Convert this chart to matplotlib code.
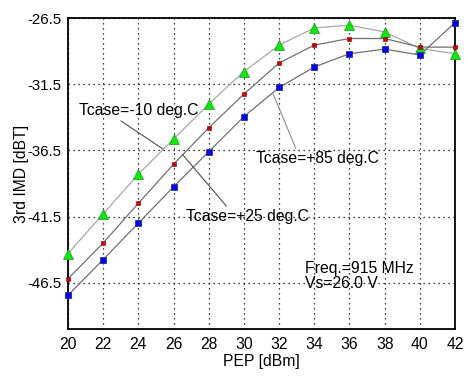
import numpy as np
import matplotlib.pyplot as plt

plt.rcParams['font.family'] = ['Liberation Sans', 'DejaVu Sans']

# PEP [dBm]
pep = [20, 22, 24, 26, 28, 30, 32, 34, 36, 38, 40, 42]

# 3rd IMD [dBT] for each case temperature
imd_m10 = [-44.3, -41.3, -38.3, -35.65, -33.0, -30.55, -28.55, -27.25, -27.05, -27.55, -28.8, -29.2]
imd_p25 = [-46.2, -43.5, -40.5, -37.55, -34.8, -32.25, -29.9, -28.55, -28.05, -28.05, -28.7, -28.7]
imd_p85 = [-47.45, -44.75, -42.0, -39.25, -36.6, -33.95, -31.75, -30.2, -29.2, -28.85, -29.3, -26.85]

xticks = [20, 22, 24, 26, 28, 30, 32, 34, 36, 38, 40, 42]
yticks = [-46.5, -41.5, -36.5, -31.5, -26.5]

fs = 11.3

fig = plt.figure(figsize=(4.68, 3.79), dpi=100)
ax = fig.add_axes([0.1453, 0.1319, 0.8269, 0.8206])

ax.plot(pep, imd_m10, color='#a8a8a8', lw=0.9, zorder=2)
ax.plot(pep, imd_p25, color='#707070', lw=0.9, zorder=2)
ax.plot(pep, imd_p85, color='#707070', lw=0.9, zorder=2)

ax.plot(pep, imd_m10, ls='none', marker='^', ms=7, mfc='#00ee00', mec='#30a030', mew=0.6, zorder=4, clip_on=False)
ax.plot(pep, imd_p25, ls='none', marker='s', ms=2.6, mfc='#cc0000', mec='#880000', mew=0.4, zorder=4, clip_on=False)
ax.plot(pep, imd_p85, ls='none', marker='s', ms=5, mfc='#0000ff', mec='#3030a0', mew=0.6, zorder=4, clip_on=False)

ax.set_xlim(20, 42)
ax.set_ylim(-50, -26.5)
ax.set_xticks(xticks)
ax.set_yticks(yticks)
ax.set_yticklabels([str(v) for v in yticks])
ax.tick_params(length=0, labelsize=fs)
ax.tick_params(axis='y', pad=5, labelsize=10.8)
ax.tick_params(axis='x', pad=6)
ax.grid(True, color='black', ls=(0, (1, 3)), lw=0.9)
for s in ax.spines.values():
    s.set_linewidth(1.3)

ax.set_xlabel('PEP [dBm]', fontsize=fs, labelpad=1)
ax.set_ylabel('3rd IMD [dBT]', fontsize=fs, labelpad=-1.5)

# leader lines and labels
ax.annotate('Tcase=-10 deg.C', xy=(25.4, -36.4), xytext=(20.6, -33.5),
            fontsize=fs, va='center', ha='left',
            arrowprops=dict(arrowstyle='-', color='#505050', lw=0.8,
                            shrinkA=0, shrinkB=0, relpos=(0.32, 0.0)))
ax.annotate('Tcase=+25 deg.C', xy=(26.5, -36.8), xytext=(26.7, -41.5),
            fontsize=fs, va='center', ha='left',
            arrowprops=dict(arrowstyle='-', color='#505050', lw=0.8,
                            shrinkA=0, shrinkB=0, relpos=(0.35, 1.0)))
ax.annotate('Tcase=+85 deg.C', xy=(31.65, -32.2), xytext=(30.7, -37.1),
            fontsize=fs, va='center', ha='left',
            arrowprops=dict(arrowstyle='-', color='#909090', lw=0.8,
                            shrinkA=0, shrinkB=0, relpos=(0.33, 1.0)))

ax.text(33.5, -46.0, 'Freq.=915 MHz\nVs=26.0 V', fontsize=fs, va='center',
        ha='left', linespacing=1.0)

fig.savefig('out.png', dpi=100)
